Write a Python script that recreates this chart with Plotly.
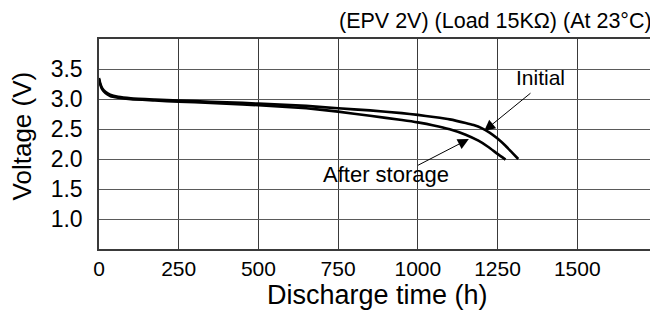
import plotly.graph_objects as go

# Discharge time (h) and voltage (V)
initial_t = [0, 4, 10, 20, 35, 60, 100, 175, 250, 350, 450, 550, 650, 750, 850, 950, 1000, 1050,
             1100, 1150, 1175, 1200, 1225, 1250, 1275, 1295, 1315]
initial_v = [3.35, 3.26, 3.18, 3.12, 3.07, 3.035, 3.01, 2.99, 2.975, 2.955, 2.935, 2.91, 2.885, 2.845,
             2.81, 2.765, 2.735, 2.70, 2.66, 2.60, 2.565, 2.515, 2.44, 2.34, 2.22, 2.11, 2.0]

storage_t = [0, 4, 10, 20, 35, 60, 100, 175, 250, 350, 450, 550, 650, 750, 850, 950, 1000, 1050,
             1100, 1150, 1190, 1220, 1250, 1275]
storage_v = [3.33, 3.24, 3.16, 3.10, 3.05, 3.02, 2.995, 2.975, 2.955, 2.935, 2.91, 2.88, 2.845, 2.79,
             2.72, 2.65, 2.61, 2.56, 2.495, 2.405, 2.305, 2.205, 2.085, 1.99]

x_ticks = [0, 250, 500, 750, 1000, 1250, 1500]
y_ticks = [1.0, 1.5, 2.0, 2.5, 3.0, 3.5]
y_tick_text = ["1.0", "1.5", "2.0", "2.5", "3.0", "3.5"]

FONT = "Liberation Sans, Arial, sans-serif"

fig = go.Figure()
for t, v, name in [(initial_t, initial_v, "Initial"), (storage_t, storage_v, "After storage")]:
    fig.add_trace(go.Scatter(x=t, y=v, mode="lines", name=name,
                             line=dict(color="black", width=2.6, shape="spline", smoothing=0.5),
                             showlegend=False))

# page body has an 8px margin: figure is 650x307, placed at (8, 8)
fig.update_layout(
    width=650, height=307,
    margin=dict(l=91, r=0, t=31, b=66),
    paper_bgcolor="white", plot_bgcolor="white",
    font=dict(family=FONT, size=21, color="black"),
)
fig.update_xaxes(range=[0, 1747], tickvals=x_ticks, showgrid=True, gridcolor="#3a3a3a", gridwidth=1.2,
                 showline=True, linecolor="#3a3a3a", linewidth=1.5, mirror=True, zeroline=False,
                 ticks="", tickfont=dict(size=21))
fig.update_yaxes(range=[0.5, 4.0], tickvals=y_ticks, ticktext=y_tick_text, showgrid=True,
                 gridcolor="#5a5a5a", gridwidth=1.2,
                 showline=True, linecolor="#3a3a3a", linewidth=1.5, mirror=True, zeroline=False,
                 ticks="outside", ticklen=10, tickcolor="rgba(0,0,0,0)",
                 tickfont=dict(size=23))

ann = []
# axis titles
ann.append(dict(text="Discharge time (h)", xref="paper", yref="paper", x=0.5, y=0, yshift=-46,
                showarrow=False, font=dict(size=27), xanchor="center", yanchor="middle"))
ann.append(dict(text="Voltage (V)", xref="paper", yref="paper", x=0, xshift=-77, y=0.536,
                textangle=-90, showarrow=False, font=dict(size=26), xanchor="center", yanchor="middle"))
# condition note
ann.append(dict(text="(EPV 2V) (Load 15KΩ) (At 23°C)", xref="paper", yref="paper", x=1, y=1,
                xshift=-2, yshift=18, showarrow=False, font=dict(size=21.5), xanchor="right",
                yanchor="middle"))
# labels
ann.append(dict(text="Initial", x=1385, y=3.36, xref="x", yref="y", showarrow=False,
                font=dict(size=21), xanchor="center", yanchor="middle"))
ann.append(dict(text="After storage", x=900, y=1.74, xref="x", yref="y", showarrow=False,
                font=dict(size=22), xanchor="center", yanchor="middle"))
# arrows
ann.append(dict(text="", x=1208, y=2.467, ax=1358, ay=3.117, xref="x", yref="y", axref="x", ayref="y",
                showarrow=True, arrowhead=2, arrowsize=2.2, arrowwidth=1, arrowcolor="black", standoff=0))
ann.append(dict(text="", x=1160, y=2.333, ax=996, ay=1.883, xref="x", yref="y", axref="x", ayref="y",
                showarrow=True, arrowhead=2, arrowsize=2.2, arrowwidth=1, arrowcolor="black", standoff=0))
fig.update_layout(annotations=ann)

fig.write_html("out.html")
